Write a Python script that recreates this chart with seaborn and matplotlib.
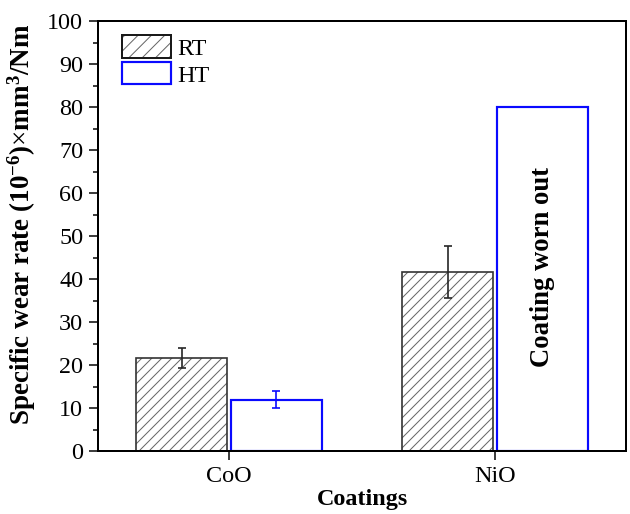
import numpy as np
import pandas as pd
import matplotlib
matplotlib.use("Agg")
import matplotlib.pyplot as plt
import matplotlib.patches as mpatches
from matplotlib.colors import to_rgba
from matplotlib.ticker import MultipleLocator
import seaborn as sns

# ---- data ----
coatings = ["CoO", "NiO"]
conditions = ["RT", "HT"]
rt_values = [21.6, 41.6]
rt_errors = [2.4, 6.1]
ht_values = [11.9, 80.0]
ht_errors = [2.0, np.nan]
y_ticks = list(range(0, 101, 10))
annotation_text = "Coating worn out"
annotation_y = 42.8

df = pd.DataFrame({
    "Coatings": coatings * 2,
    "Condition": ["RT"] * len(coatings) + ["HT"] * len(coatings),
    "Rate": rt_values + ht_values,
})
errors = {"RT": rt_errors, "HT": ht_errors}

sns.set_style("ticks")
plt.rcParams["font.family"] = ["Liberation Serif", "DejaVu Serif"]
plt.rcParams["mathtext.fontset"] = "custom"
plt.rcParams["mathtext.rm"] = "Liberation Serif"
plt.rcParams["mathtext.bf"] = "Liberation Serif:bold"
plt.rcParams["mathtext.it"] = "Liberation Serif:italic"
plt.rcParams["hatch.linewidth"] = 0.6
for k in ["text.color", "axes.labelcolor", "xtick.color", "ytick.color", "axes.edgecolor"]:
    plt.rcParams[k] = "black"

DPI = 120
fig = plt.figure(figsize=(630 / DPI, 514 / DPI), dpi=DPI)
ax = fig.add_axes([98 / 630, 1 - 451 / 514, 528 / 630, 430 / 514])

sns.barplot(data=df, x="Coatings", y="Rate", hue="Condition",
            order=coatings, hue_order=conditions, width=0.71, gap=0.035,
            errorbar=None, legend=False, ax=ax,
            palette={"RT": "white", "HT": "white"})

HATCH_GREY = to_rgba("0.4")
styles = {
    "RT": dict(edge="0.2", hatch="////", lw=1.0, ecolor="0.15"),
    "HT": dict(edge="#0a0aff", hatch=None, lw=1.3, ecolor="#0a0aff"),
}
for cond, cont in zip(conditions, ax.containers):
    st = styles[cond]
    for bar, err in zip(cont, errors[cond]):
        bar.set_facecolor("white")
        bar.set_edgecolor(st["edge"])
        bar.set_linewidth(st["lw"])
        if st["hatch"]:
            bar.set_hatch(st["hatch"])
            bar._hatch_color = HATCH_GREY
        if not np.isnan(err):
            ax.errorbar(bar.get_x() + bar.get_width() / 2, bar.get_height(),
                        yerr=err, fmt="none", ecolor=st["ecolor"],
                        elinewidth=1.0, capsize=2.2, capthick=1.0, zorder=5)

# annotation in the NiO HT bar
ht_cont = ax.containers[conditions.index("HT")]
niobar = ht_cont[coatings.index("NiO")]
ax.text(niobar.get_x() + niobar.get_width() / 2, annotation_y, annotation_text,
        rotation=90, ha="center", va="center", fontsize=16, fontweight="bold",
        color="black")

ax.set_xlim(-0.4925, 1.4925)
ax.set_ylim(0, 100)
ax.set_yticks(y_ticks)
ax.yaxis.set_minor_locator(MultipleLocator(5))

for sp in ax.spines.values():
    sp.set_visible(True)
    sp.set_linewidth(1.2)
    sp.set_color("black")

ax.tick_params(axis="both", which="major", direction="out", length=5.4,
               width=0.9, labelsize=14.5, colors="black", top=False, right=False)
ax.tick_params(axis="y", which="minor", direction="out", length=3, width=0.9,
               right=False)

ax.set_xlabel("Coatings", fontsize=14.5, fontweight="bold", labelpad=1)
ax.set_ylabel(r"Specific wear rate (10$^{\mathbf{-6}}$)$\times$mm$^{\mathbf{3}}$/Nm",
              fontsize=16.2, fontweight="bold")
ax.yaxis.set_label_coords(-0.113, 0.526)

rt_handle = mpatches.Patch(facecolor="white", edgecolor="0.1", hatch="///", lw=1.2, label="RT")
rt_handle._hatch_color = HATCH_GREY
handles = [
    rt_handle,
    mpatches.Patch(facecolor="white", edgecolor="#0a0aff", lw=1.3, label="HT"),
]
ax.legend(handles=handles, loc="upper left", bbox_to_anchor=(0.045, 0.967),
          borderaxespad=0, borderpad=0, frameon=False, handlelength=2.05,
          handleheight=1.05, handletextpad=0.25, labelspacing=0.1,
          prop={"family": "Liberation Serif", "size": 14.5})

fig.savefig("out.png", dpi=DPI)
